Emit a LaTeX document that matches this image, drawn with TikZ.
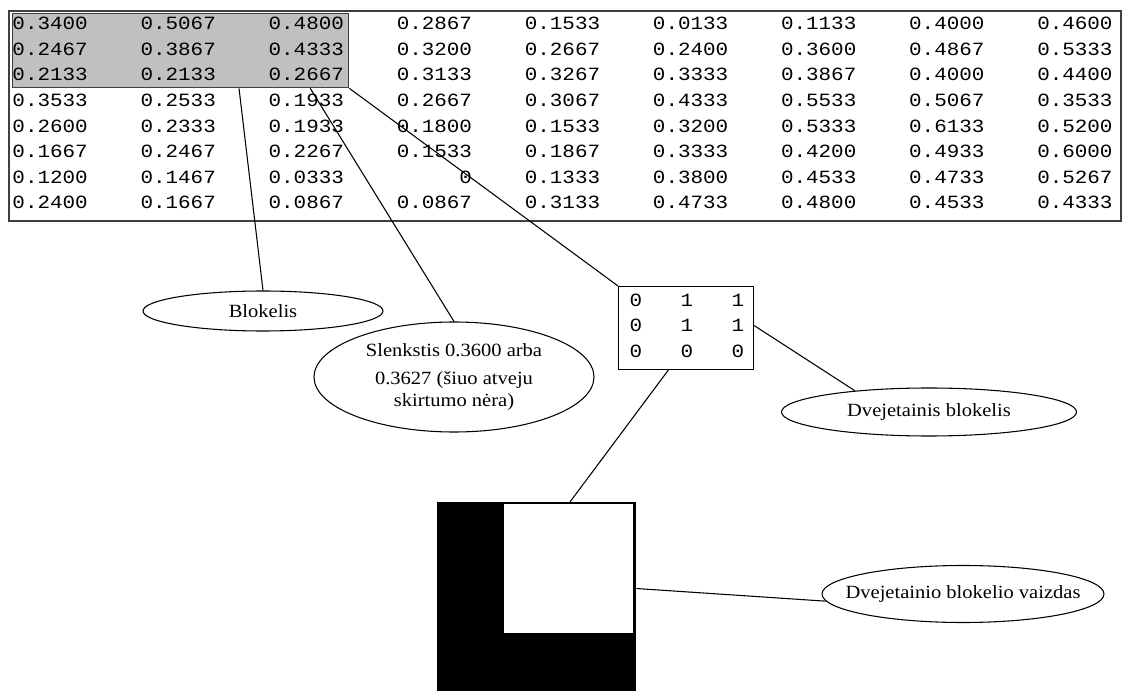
\documentclass[tikz,border=0pt]{standalone}
\usepackage{fontspec}
\setmainfont{Liberation Serif}
\newfontfamily\lblfont[FakeStretch=1.1]{Liberation Serif}
\newfontfamily\numfont[FakeStretch=1.12]{Liberation Mono}
\usetikzlibrary{shapes.geometric,calc}
\newdimen\px \px=0.75pt
\definecolor{tabgray}{HTML}{404040}
\definecolor{cellgray}{HTML}{C0C0C0}
\begin{document}
\begin{tikzpicture}[x=0.75pt,y=-0.75pt,
  conn/.style={draw=black,line width=0.8pt},
  lbl/.style={ellipse,draw=black,line width=0.8pt,fill=white,inner sep=0pt},
  lbltext/.style={inner sep=0pt,align=center,font=\lblfont\fontsize{14}{16.5}\selectfont},
  num/.style={inner sep=0pt,anchor=east,font=\numfont\fontsize{14}{14}\selectfont},
  bit/.style={inner sep=0pt,font=\numfont\fontsize{14}{14}\selectfont},
]
\useasboundingbox (0,0) rectangle (1122,691);
\clip (0,0) rectangle (1122,691);
\fill[white] (0,0) rectangle (1122,691);

% table frame and highlighted block
\node[draw=tabgray,line width=1.2pt,minimum width=1112\px,minimum height=210\px,inner sep=0pt,anchor=north west] (tab) at (8,10) {};
\node[draw=tabgray,fill=cellgray,line width=1pt,minimum width=336\px,minimum height=74\px,inner sep=0pt,anchor=north west] (blk) at (12,13) {};

% table values
\foreach \row [count=\r] in {
  {0.3400,0.5067,0.4800,0.2867,0.1533,0.0133,0.1133,0.4000,0.4600},
  {0.2467,0.3867,0.4333,0.3200,0.2667,0.2400,0.3600,0.4867,0.5333},
  {0.2133,0.2133,0.2667,0.3133,0.3267,0.3333,0.3867,0.4000,0.4400},
  {0.3533,0.2533,0.1933,0.2667,0.3067,0.4333,0.5533,0.5067,0.3533},
  {0.2600,0.2333,0.1933,0.1800,0.1533,0.3200,0.5333,0.6133,0.5200},
  {0.1667,0.2467,0.2267,0.1533,0.1867,0.3333,0.4200,0.4933,0.6000},
  {0.1200,0.1467,0.0333,0,0.1333,0.3800,0.4533,0.4733,0.5267},
  {0.2400,0.1667,0.0867,0.0867,0.3133,0.4733,0.4800,0.4533,0.4333}} {
  \foreach \v [count=\c] in \row {
    \node[num] (n\r-\c) at ({88+128.1*(\c-1)},{23.5+25.6*(\r-1)}) {\v};
  }
}

% ellipses
\node[lbl,minimum width=240\px,minimum height=40\px] (blokelis) at (263,311) {};
\node[lbltext] (blokelis-t) at (blokelis.center) {Blokelis};

\node[lbl,minimum width=280\px,minimum height=110\px] (slenk) at (454,377) {};
\node[lbltext] (slenk-t) at (slenk.center) {Slenkstis 0.3600 arba\\[4.5pt]0.3627 (šiuo atveju\\skirtumo nėra)};

\node[lbl,minimum width=295\px,minimum height=48\px] (dvb) at (929,412) {};
\node[lbltext] (dvb-t) at (dvb.center) {Dvejetainis blokelis};

\node[lbl,minimum width=282\px,minimum height=57\px] (dvv) at (963,594) {};
\node[lbltext] (dvv-t) at (dvv.center) {Dvejetainio blokelio vaizdas};

% binary block
\node[draw=black,line width=0.8pt,minimum width=135\px,minimum height=83\px,inner sep=0pt,anchor=north west] (bin) at (618,286) {};
\foreach \row [count=\r] in {{0,1,1},{0,1,1},{0,0,0}} {
  \foreach \v [count=\c] in \row {
    \node[bit] (b\r-\c) at ({636+51*(\c-1)},{300+25.5*(\r-1)}) {\v};
  }
}

% binary image
\node[draw=black,fill=black,line width=1pt,minimum width=198\px,minimum height=198\px,inner sep=0pt,anchor=north west] (sq) at (437,502) {};
\fill[white] (504,504) rectangle (633,633);

% connectors
\draw[conn] ($(blk.south west)!0.673!(blk.south east)$) -- (blokelis.north);
\draw[conn] ($(blk.south west)!0.884!(blk.south east)$) -- (slenk.north);
\draw[conn] (blk.south east) -- (bin.north west);
\draw[conn] ($(bin.north east)!0.47!(bin.south east)$) -- (dvb.164);
\draw[conn] ($(bin.south west)!0.37!(bin.south east)$) -- ($(sq.north west)!0.667!(sq.north east)$);
\draw[conn] ($(sq.north east)!0.434!(sq.south east)$) -- (dvv.183);
\end{tikzpicture}
\end{document}
